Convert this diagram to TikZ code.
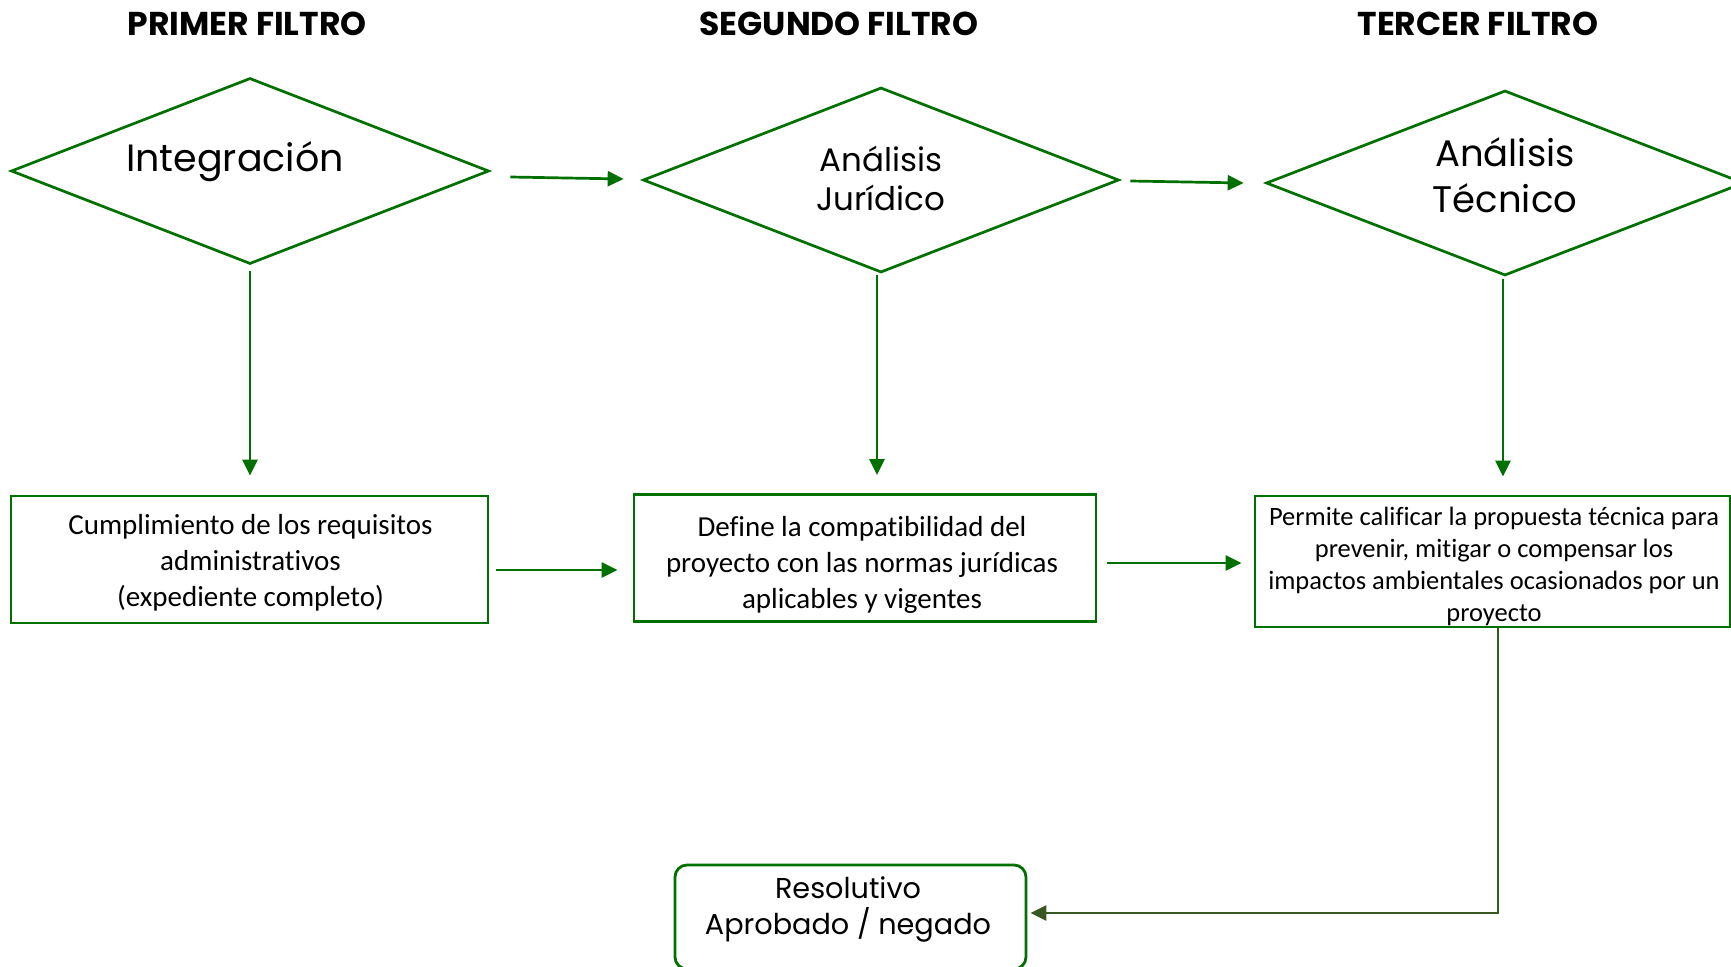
\documentclass[tikz,border=0pt]{standalone}
\usepackage{fontspec}
\setmainfont{Carlito}[Ligatures={NoCommon}]
\newfontfamily\pop{Poppins}
\usetikzlibrary{shapes.geometric,arrows.meta,calc}
\definecolor{gr}{RGB}{0,112,0}
\definecolor{darkol}{RGB}{56,87,35}
\tikzset{
  dia/.style={draw=gr, line width=2.7pt, diamond, inner sep=0pt},
  boxn/.style={draw=gr, line width=2.8pt, rectangle, inner sep=0pt, align=center},
  rbox/.style={draw=gr, line width=2.8pt, rectangle, rounded corners=12pt, inner sep=0pt},
  arr/.style={draw=gr, line width=2.7pt, -{Triangle[length=16pt,width=15pt]}},
  arrb/.style={draw=darkol, line width=2.7pt, -{Triangle[length=16pt,width=15pt]}},
  hd/.style={font=\pop\bfseries\fontsize{33}{38}\selectfont, inner sep=0pt},
  dtxt/.style={align=center, inner sep=0pt},
}
\begin{document}
\begin{tikzpicture}[x=1pt,y=-1pt]
\clip (0,0) rectangle (1731,966);
\fill[white] (0,0) rectangle (1731,966);

% headings
\node[hd] (h1) at (247,24) {PRIMER FILTRO};
\node[hd] (h2) at (839,24) {SEGUNDO FILTRO};
\node[hd] (h3) at (1478,24) {TERCER FILTRO};

% diamonds
\node[dia, minimum width=478pt, minimum height=186pt] (d1) at (250,171) {};
\node[dia, minimum width=476pt, minimum height=185pt] (d2) at (881,180) {};
\node[dia, minimum width=478pt, minimum height=185pt] (d3) at (1505,183) {};

\node[dtxt, font=\pop\fontsize{38}{46}\selectfont] (t1) at (235,162) {Integración};
\node[dtxt, font=\pop\fontsize{32.5}{39}\selectfont] (t2) at (881,178.5) {Análisis\\Jurídico};
\node[dtxt, font=\pop\fontsize{37}{46}\selectfont] (t3) at (1505,175.5) {Análisis\\Técnico};

% boxes
\node[boxn, minimum width=477pt, minimum height=127pt] (b1) at (249.5,559.5) {};
\node[dtxt, font=\fontsize{29}{36}\selectfont] (tb1) at (250.5,563)
  {Cumplimiento de los requisitos\\administrativos\\(expediente completo)};
\node[boxn, minimum width=462pt, minimum height=127pt] (b2) at (865,558) {};
\node[dtxt, font=\fontsize{29}{36}\selectfont] (tb2) at (862,565)
  {Define la compatibilidad del\\proyecto con las normas jurídicas\\aplicables y vigentes};
\node[boxn, minimum width=475pt, minimum height=131pt] (b3) at (1492.5,561.5) {};
\node[dtxt, font=\fontsize{26.5}{32}\selectfont] (tb3) at (1494,566)
  {Permite calificar la propuesta técnica para\\prevenir, mitigar o compensar los\\impactos ambientales ocasionados por un\\proyecto};

\node[rbox, minimum width=351pt, minimum height=104pt] (b4) at (850.5,917) {};
\node[dtxt, font=\pop\fontsize{28.7}{36}\selectfont] (t4) at (848,909) {Resolutivo\\Aprobado / negado};

% connectors
\draw[arr] ($(d1.east)+(20,6)$) -- ($(d2.west)+(-18,-1)$);
\draw[arr] ($(d2.east)+(10,1)$) -- ($(d3.west)+(-21,0)$);

\draw[arr] ($(d1.south)+(0,6)$) -- ($(d1.south |- b1.north)+(0,-19)$);
\draw[arr] ($(d2.south)+(-4,1)$) -- ($(d2.south |- b2.north)+(-4,-18)$);
\draw[arr] ($(d3.south)+(-2,2)$) -- ($(d3.south |- b3.north)+(-2,-18)$);

\draw[arr] ($(b1.east)+(7,10.5)$) -- ($(b2.west)+(-15,12)$);
\draw[arr] ($(b2.east)+(10,5)$) -- ($(b3.west)+(-12,1.5)$);

\draw[arrb] ($(b3.south)+(5.5,0)$) |- ($(b4.east)+(3,-4)$);
\end{tikzpicture}
\end{document}
